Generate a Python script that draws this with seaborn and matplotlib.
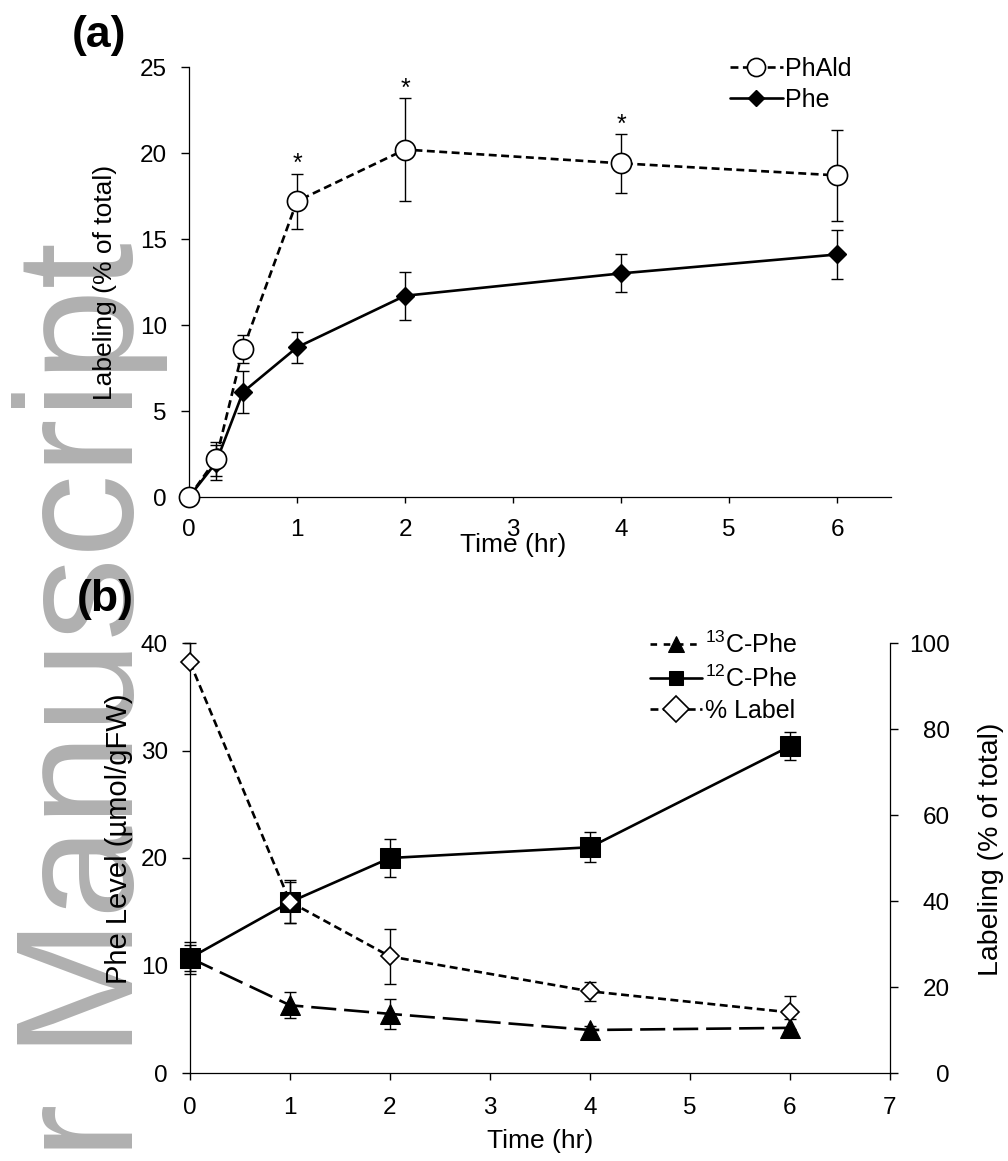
import matplotlib
matplotlib.use('Agg')
import matplotlib.pyplot as plt
import seaborn as sns

# (a) 시간별 라벨링 (PhAld / Phe)
time_a = [0, 0.25, 0.5, 1, 2, 4, 6]
phald_mean = [0, 2.2, 8.6, 17.2, 20.2, 19.4, 18.7]
phald_sd = [0, 1.0, 0.8, 1.6, 3.0, 1.7, 2.65]
phe_mean = [0, 2.0, 6.1, 8.7, 11.7, 13.0, 14.1]
phe_sd = [0, 1.0, 1.2, 0.9, 1.4, 1.1, 1.4]
star_times = [1, 2, 4]

# (b) Phe 수준 + 라벨링 비율
time_b = [0, 1, 2, 4, 6]
c13_mean = [10.7, 6.3, 5.5, 4.0, 4.2]
c13_sd = [1.2, 1.2, 1.4, 0.4, 0.8]
c12_mean = [10.7, 15.9, 20.0, 21.0, 30.4]
c12_sd = [1.5, 1.9, 1.8, 1.4, 1.3]
label_mean = [95.5, 39.8, 27.1, 19.0, 14.1]
label_err_low = [0, 5.0, 6.3, 2.2, 3.8]
label_err_high = [4.4, 5.0, 6.3, 2.2, 3.8]

sns.set_theme(style='ticks')
plt.rcParams['font.family'] = ['Liberation Sans', 'DejaVu Sans']
plt.rcParams['mathtext.default'] = 'regular'
plt.rcParams['axes.linewidth'] = 0.9
for k in ['text.color', 'axes.edgecolor', 'axes.labelcolor', 'xtick.color', 'ytick.color']:
    plt.rcParams[k] = 'black'

W, H = 1008, 1161
fig = plt.figure(figsize=(W / 100, H / 100), dpi=100)

# 워터마크
fig.text(133 / W, 1 - 242 / H, 'Author Manuscript', rotation=90, rotation_mode='anchor',
         ha='right', va='baseline', fontsize=120, color='#b0b0b0', zorder=-1)

ax_a = fig.add_axes([189 / W, 1 - 497 / H, 702 / W, 430 / H])
ax_b = fig.add_axes([190 / W, 1 - 1073 / H, 700 / W, 430 / H])
ax_b2 = ax_b.twinx()
ax_b2.set_position([190 / W, 1 - 1073 / H, 700 / W, 430 / H])

short_dash = (0, (3, 1.7))
long_dash = (0, (9.5, 3))
eb = dict(fmt='none', ecolor='black', elinewidth=1, capsize=4.3, capthick=1, clip_on=False)

# ---- (a) ----
ax_a.errorbar(time_a, phe_mean, yerr=phe_sd, zorder=2, **eb)
ax_a.errorbar(time_a, phald_mean, yerr=phald_sd, zorder=2, **eb)
sns.lineplot(x=time_a, y=phald_mean, ax=ax_a, color='black', linestyle=short_dash, linewidth=1.9,
             marker='o', markersize=14.5, markerfacecolor='white', markeredgecolor='black',
             markeredgewidth=1.2, label='PhAld', clip_on=False, zorder=4, errorbar=None)
sns.lineplot(x=time_a, y=phe_mean, ax=ax_a, color='black', linestyle='-', linewidth=1.9,
             marker='D', markersize=9.5, markerfacecolor='black', markeredgecolor='black',
             markeredgewidth=1, label='Phe', clip_on=False, zorder=3, errorbar=None)
for t in star_times:
    i = time_a.index(t)
    ax_a.text(t, phald_mean[i] + phald_sd[i] + 0.15, '*', ha='center', va='baseline', fontsize=18)

ax_a.set_xlim(0, 6.5)
ax_a.set_ylim(0, 25)
ax_a.set_xticks(range(0, 7))
ax_a.set_yticks(range(0, 26, 5))
ax_a.spines[['top', 'right']].set_visible(False)
ax_a.tick_params(axis='y', direction='out', length=6, width=1, labelsize=17.5, pad=10)
ax_a.tick_params(axis='x', direction='out', length=4, width=1, labelsize=17.5, pad=12)
ax_a.set_xlabel('Time (hr)', fontsize=19)
ax_a.set_ylabel('Labeling (% of total)', fontsize=19)
ax_a.xaxis.set_label_coords(3 / 6.5, -0.084)
ax_a.yaxis.set_label_coords(-0.1026, 0.5)
leg_a = ax_a.legend(loc='upper left', bbox_to_anchor=(0.771, 1.023), frameon=False, fontsize=18,
                    handlelength=2.1, handletextpad=0.1, labelspacing=0.28, borderpad=0,
                    borderaxespad=0, markerscale=0.9)
fig.text(99 / W, 1 - 35 / H, '(a)', fontsize=32, fontweight='bold', ha='center', va='center')

# ---- (b) ----
ax_b.errorbar(time_b, c13_mean, yerr=c13_sd, zorder=2, **eb)
ax_b.errorbar(time_b, c12_mean, yerr=c12_sd, zorder=2, **eb)
sns.lineplot(x=time_b, y=c13_mean, ax=ax_b, color='black', linestyle=long_dash, linewidth=1.9,
             marker='^', markersize=14, markerfacecolor='black', markeredgecolor='black',
             label='$^{13}$C-Phe', clip_on=False, zorder=3, errorbar=None)
sns.lineplot(x=time_b, y=c12_mean, ax=ax_b, color='black', linestyle='-', linewidth=1.9,
             marker='s', markersize=14.5, markerfacecolor='black', markeredgecolor='black',
             label='$^{12}$C-Phe', clip_on=False, zorder=3, errorbar=None)
ax_b2.errorbar(time_b, label_mean, yerr=[label_err_low, label_err_high], zorder=2, **eb)
sns.lineplot(x=time_b, y=label_mean, ax=ax_b2, color='black', linestyle=short_dash, linewidth=1.9,
             marker='D', markersize=9.5, markerfacecolor='white', markeredgecolor='black',
             markeredgewidth=1.2, label='% Label', clip_on=False, zorder=4, errorbar=None)

ax_b.set_xlim(0, 7)
ax_b.set_ylim(0, 40)
ax_b.set_xticks(range(0, 8))
ax_b.set_yticks(range(0, 41, 10))
ax_b2.set_ylim(0, 100)
ax_b2.set_yticks(range(0, 101, 20))
ax_b.spines[['top', 'right']].set_visible(False)
ax_b2.spines[['top', 'left', 'bottom']].set_visible(False)
ax_b.tick_params(axis='y', direction='out', length=6, width=1, labelsize=17.5, pad=10)
ax_b.tick_params(axis='x', direction='out', length=5, width=1, labelsize=17.5, pad=12)
ax_b2.tick_params(axis='y', direction='out', length=6, width=1, labelsize=17.5, pad=37)
for lab in ax_b2.get_yticklabels():
    lab.set_horizontalalignment('right')
ax_b.set_xlabel('Time (hr)', fontsize=19)
ax_b.set_ylabel('Phe Level (µmol/gFW)', fontsize=21)
ax_b2.set_ylabel('Labeling (% of total)', fontsize=20.5)
ax_b.xaxis.set_label_coords(0.5, -0.13)
ax_b.yaxis.set_label_coords(-0.081, 0.544)
ax_b2.yaxis.set_label_coords(1.1257, 0.52)

if ax_b.get_legend():
    ax_b.get_legend().remove()
h1, l1 = ax_b.get_legend_handles_labels()
h2, l2 = ax_b2.get_legend_handles_labels()
leg_b = ax_b2.legend(h1 + h2, l1 + l2, loc='upper left', bbox_to_anchor=(0.657, 1.026),
                     frameon=False, fontsize=18, handlelength=2.1, handletextpad=0.1,
                     labelspacing=0.28, borderpad=0, borderaxespad=0)
for hd, ms in zip(leg_b.legend_handles, [12, 10.5, 13]):
    hd.set_markersize(ms)
leg_b.legend_handles[0].set_linestyle((0, (2.5, 2.5)))
fig.text(105 / W, 1 - 600 / H, '(b)', fontsize=32, fontweight='bold', ha='center', va='center')

fig.savefig('out.png', dpi=100)
